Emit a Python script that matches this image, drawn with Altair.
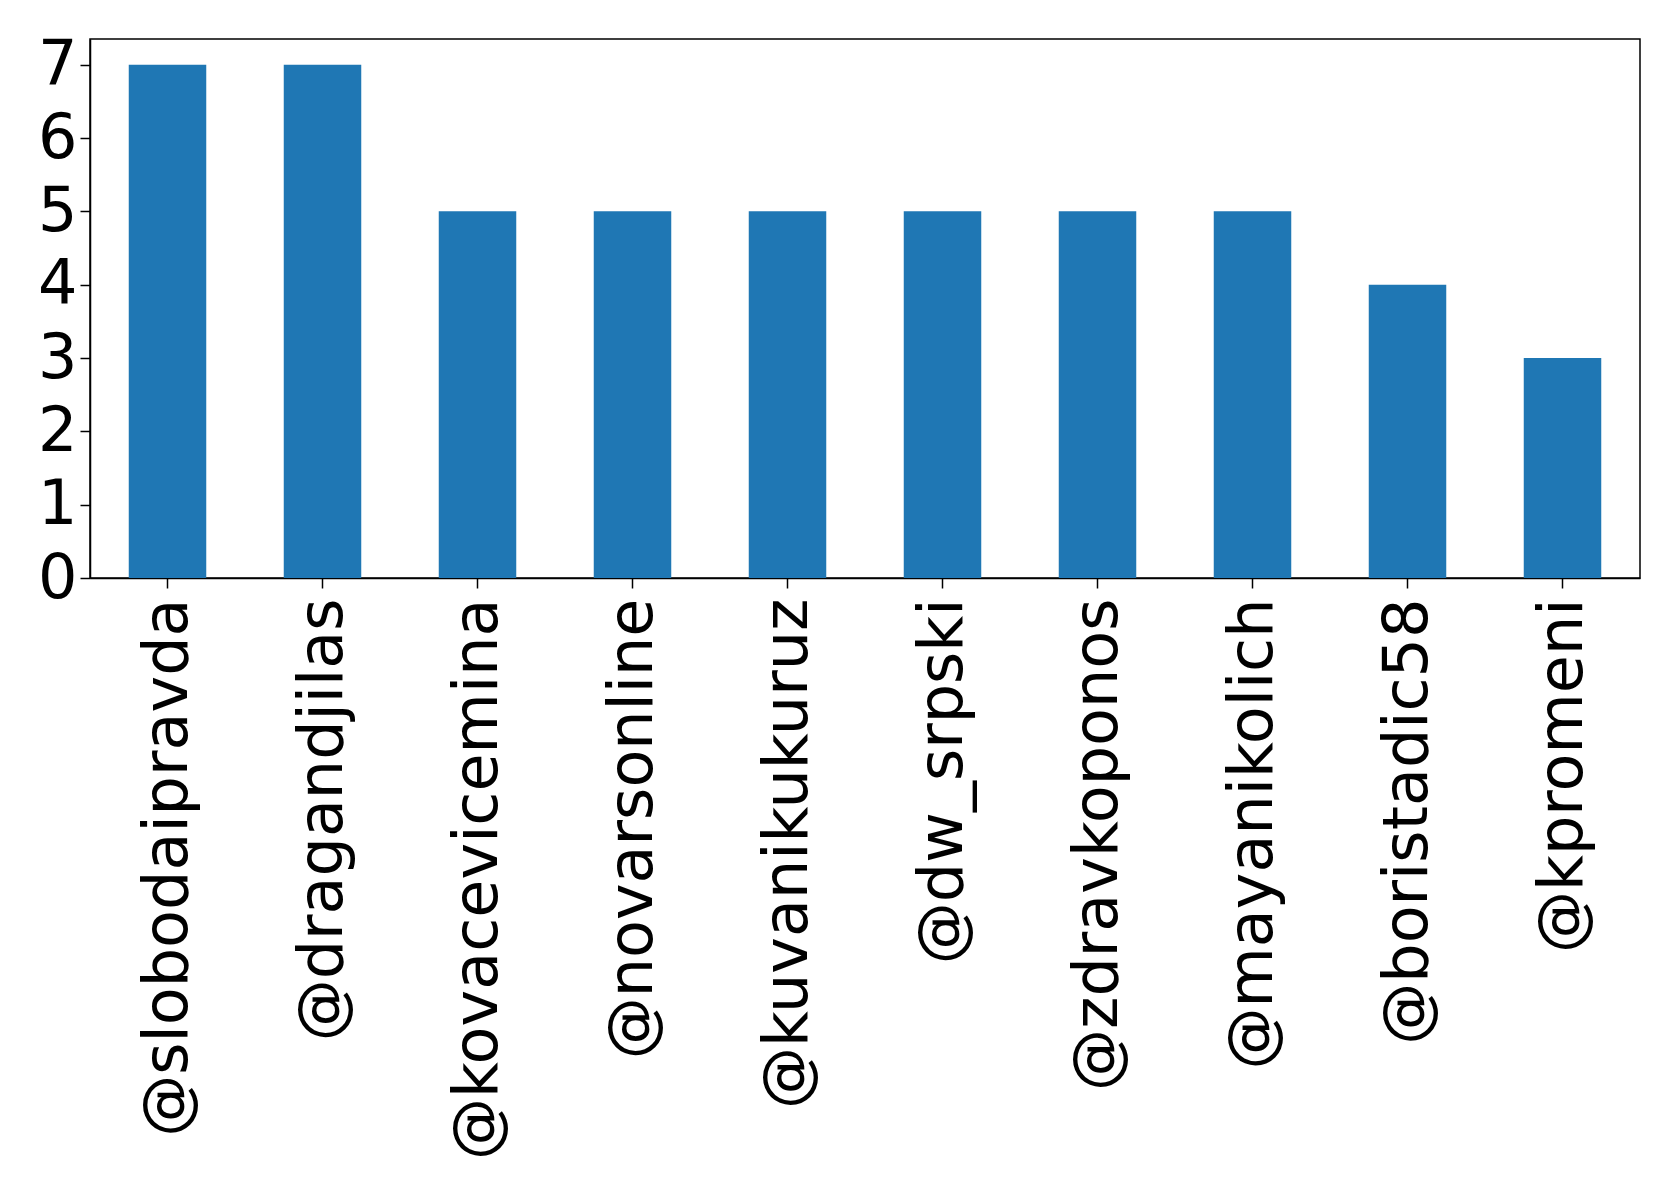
import altair as alt
import pandas as pd

accounts = ["@slobodaipravda", "@dragandjilas", "@kovacevicemina", "@novarsonline",
            "@kuvanikukuruz", "@dw_srpski", "@zdravkoponos", "@mayanikolich",
            "@boristadic58", "@kpromeni"]
counts = [7, 7, 5, 5, 5, 5, 5, 5, 4, 3]
y_ticks = [0, 1, 2, 3, 4, 5, 6, 7]

df = pd.DataFrame({"account": accounts, "count": counts})

chart = alt.Chart(df).mark_bar(color="#1f77b4").encode(
    x=alt.X("account:N", sort=accounts, title=None,
            scale=alt.Scale(paddingInner=0.5, paddingOuter=0.25),
            axis=alt.Axis(labelAngle=270, labelAlign="right", labelBaseline="middle",
                          labelFontSize=62, labelFont="DejaVu Sans", labelColor="black",
                          labelPadding=10, tickSize=10, tickWidth=1.5, tickColor="black",
                          domainColor="black", domainWidth=1.5, grid=False,
                          labelLimit=1000)),
    y=alt.Y("count:Q", title=None,
            scale=alt.Scale(domain=[0, 7.35], nice=False, zero=True),
            axis=alt.Axis(values=y_ticks, format="d", labelFontSize=62,
                          labelFont="DejaVu Sans", labelColor="black", labelPadding=3,
                          tickSize=10, tickWidth=1.5, tickColor="black",
                          domainColor="black", domainWidth=1.5, grid=False)),
).properties(
    width=1550, height=539,
    autosize=alt.AutoSizeParams(type="none"),
    padding={"left": 82, "top": 31, "right": 30, "bottom": 600},
).configure(
    background="white"
).configure_view(
    stroke="black", strokeWidth=1.5
)

chart.save("out.html", embed_options={"renderer": "svg", "actions": False})
